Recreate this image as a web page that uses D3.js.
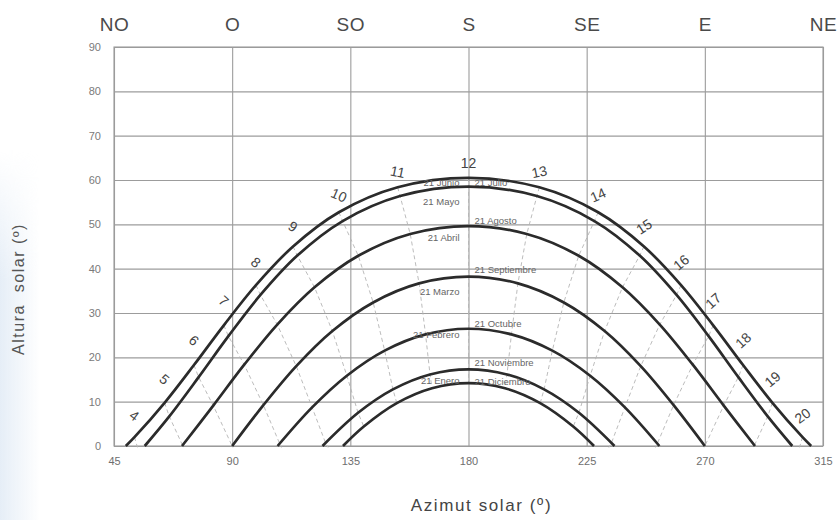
<!DOCTYPE html>
<html>
<head>
<meta charset="utf-8">
<script src="https://cdn.jsdelivr.net/npm/d3@7"></script>
<style>
  html, body { margin: 0; padding: 0; background: #fff; }
  svg { display: block; font-family: "Liberation Sans", Arial, sans-serif; }
</style>
</head>
<body>
<svg id="chart" width="839" height="520"></svg>
<script>
// ---- axes ----
const azimuthTicks = [45, 90, 135, 180, 225, 270, 315];
const altitudeTicks = [0, 10, 20, 30, 40, 50, 60, 70, 80, 90];
const compassLabels = ["NO", "O", "SO", "S", "SE", "E", "NE"];

// ---- sun paths: [hour, azimuth (º), altitude (º)] ----
const pathJunio = [[3,40.7,-4.62],[4,52.79,1.99],[5,64.26,9.74],[6,75.44,18.26],[7,86.81,27.22],[8,99.06,36.29],[9,113.18,45.0],[10,130.64,52.72],[11,153.03,58.35],[12,180,60.48],[13,206.97,58.35],[14,229.36,52.72],[15,246.82,45.0],[16,260.94,36.29],[17,273.19,27.22],[18,284.56,18.26],[19,295.74,9.74],[20,307.21,1.99],[21,319.3,-4.62]];
const pathMayoJulio = [[4,54.5,-1.42],[5,66.05,6.68],[6,77.23,15.53],[7,88.57,24.78],[8,100.77,34.07],[9,114.81,42.95],[10,132.06,50.74],[11,153.94,56.38],[12,180,58.5],[13,206.06,56.38],[14,227.94,50.74],[15,245.19,42.95],[16,259.23,34.07],[17,271.43,24.78],[18,282.77,15.53],[19,293.95,6.68],[20,305.5,-1.42]];
const pathAbrilAgosto = [[4,59.0,-8.23],[5,71.12,0.14],[6,82.8,9.12],[7,94.59,18.34],[8,107.17,27.39],[9,121.36,35.8],[10,138.03,42.91],[11,157.81,47.82],[12,180,49.6],[13,202.19,47.82],[14,221.97,42.91],[15,238.64,35.8],[16,252.83,27.39],[17,265.41,18.34],[18,277.2,9.12],[19,288.88,0.14],[20,301.0,-8.23]];
const pathMarzoSept = [[5,78.11,-9.21],[6,90,0],[7,101.89,9.21],[8,114.41,18.01],[9,128.16,25.93],[10,143.7,32.38],[11,161.18,36.68],[12,180,38.2],[13,198.82,36.68],[14,216.3,32.38],[15,231.84,25.93],[16,245.59,18.01],[17,258.11,9.21],[18,270,0],[19,281.89,-9.21]];
const pathFebOct = [[6,96.16,-8.2],[7,108.09,0.55],[8,120.44,8.71],[9,133.67,15.85],[10,148.07,21.51],[11,163.65,25.18],[12,180,26.45],[13,196.35,25.18],[14,211.93,21.51],[15,226.33,15.85],[16,239.56,8.71],[17,251.91,0.55],[18,263.84,-8.2]];
const pathEneNov = [[7,113.89,-7.2],[8,125.57,0.7],[9,137.95,7.49],[10,151.22,12.77],[11,165.34,16.14],[12,180,17.3],[13,194.66,16.14],[14,208.78,12.77],[15,222.05,7.49],[16,234.43,0.7],[17,246.11,-7.2]];
const pathDiciembre = [[8,128.4,-2.42],[9,140.12,4.41],[10,152.7,9.68],[11,166.1,13.04],[12,180,14.2],[13,193.9,13.04],[14,207.3,9.68],[15,219.88,4.41],[16,231.6,-2.42]];

// sunrise / sunset azimuths (altitude 0) for each path, top to bottom
const sunriseAz = [49.5, 56.7, 70.9, 90, 107.3, 124.4, 132.2];
const sunsetAz  = [310.5, 303.3, 289.1, 270, 252.7, 235.6, 227.8];

// date names written beside each path (left of south, right of south)
const leftDateLabels  = ["21 Junio", "21 Mayo", "21 Abril", "21 Marzo", "21 Febrero", "21 Enero", null];
const rightDateLabels = [null, "21 Julio", "21 Agosto", "21 Septiembre", "21 Octubre", "21 Noviembre", "21 Diciembre"];

// solar hours marked along the highest path
const hourLabels = [4, 5, 6, 7, 8, 9, 10, 11, 12, 13, 14, 15, 16, 17, 18, 19, 20];

const sunPaths = [pathJunio, pathMayoJulio, pathAbrilAgosto, pathMarzoSept, pathFebOct, pathEneNov, pathDiciembre];

// ---- layout ----
const svg = d3.select("#chart");
const plot = { left: 114, right: 823, top: 47, bottom: 446 };
const x = d3.scaleLinear().domain([45, 315]).range([plot.left, plot.right]);
const y = d3.scaleLinear().domain([0, 90]).range([plot.bottom, plot.top]);

// faint bluish tint along the lower left margin, fading out upward and inward
const defs = svg.append("defs");
const tint = defs.append("linearGradient").attr("id", "edgeTint").attr("x1", 0).attr("x2", 1);
tint.append("stop").attr("offset", 0).attr("stop-color", "#dde8f4").attr("stop-opacity", 0.75);
tint.append("stop").attr("offset", 1).attr("stop-color", "#dde8f4").attr("stop-opacity", 0);
const fade = defs.append("linearGradient").attr("id", "edgeFade")
  .attr("x1", 0).attr("x2", 0).attr("y1", 0).attr("y2", 1);
fade.append("stop").attr("offset", 0).attr("stop-color", "#fff").attr("stop-opacity", 0);
fade.append("stop").attr("offset", 0.35).attr("stop-color", "#fff").attr("stop-opacity", 1);
fade.append("stop").attr("offset", 1).attr("stop-color", "#fff").attr("stop-opacity", 1);
defs.append("mask").attr("id", "edgeMask")
  .attr("maskUnits", "userSpaceOnUse")
  .attr("x", 0).attr("y", 150).attr("width", 40).attr("height", 370)
  .append("rect").attr("x", 0).attr("y", 150).attr("width", 40).attr("height", 370)
  .attr("fill", "url(#edgeFade)");
svg.append("rect").attr("x", 0).attr("y", 150).attr("width", 40).attr("height", 370)
  .attr("fill", "url(#edgeTint)").attr("mask", "url(#edgeMask)");

defs.append("clipPath").attr("id", "plotClip")
  .append("rect").attr("x", plot.left).attr("y", plot.top)
  .attr("width", plot.right - plot.left).attr("height", plot.bottom - plot.top + 1.5);

// horizontal grid + altitude labels
const yAxis = svg.append("g")
  .attr("transform", `translate(${plot.left},0)`)
  .call(d3.axisLeft(y).tickValues(altitudeTicks).tickSize(-(plot.right - plot.left)).tickPadding(13));
yAxis.select(".domain").remove();
yAxis.selectAll("line").attr("stroke", "#9c9c9c").attr("stroke-width", 1.1);
yAxis.selectAll("text").attr("fill", "#7a7a7a").style("font-size", "11px");

// vertical grid + azimuth labels
const xAxis = svg.append("g")
  .attr("transform", `translate(0,${plot.bottom})`)
  .call(d3.axisBottom(x).tickValues(azimuthTicks).tickSize(-(plot.bottom - plot.top)).tickPadding(11));
xAxis.select(".domain").remove();
xAxis.selectAll("line").attr("stroke", "#9c9c9c").attr("stroke-width", 1.1);
xAxis.selectAll("text").attr("fill", "#6e6e6e").style("font-size", "11px");

// compass points along the top
const compassAxis = svg.append("g")
  .attr("transform", `translate(0,${plot.top})`)
  .call(d3.axisTop(x).tickValues(azimuthTicks).tickSize(0).tickPadding(16)
    .tickFormat((d, i) => compassLabels[i]));
compassAxis.select(".domain").remove();
compassAxis.selectAll("text").attr("fill", "#4a4a4a").style("font-size", "19px").style("letter-spacing", "0.5px");

// plot frame
svg.append("rect")
  .attr("x", plot.left).attr("y", plot.top)
  .attr("width", plot.right - plot.left).attr("height", plot.bottom - plot.top)
  .attr("fill", "none").attr("stroke", "#9c9c9c").attr("stroke-width", 1.1);

const inner = svg.append("g").attr("clip-path", "url(#plotClip)");

// dashed hour lines joining the same hour on every path
const hourLine = d3.line().x(p => x(p[1])).y(p => y(p[2]));
d3.range(4, 21).forEach(h => {
  const pts = sunPaths.map(p => p.find(q => q[0] === h)).filter(Boolean);
  if (pts.length < 2 || !pts.some(q => q[2] > 0)) return;
  inner.append("path")
    .attr("d", hourLine(pts))
    .attr("fill", "none")
    .attr("stroke", "#b4b4b4")
    .attr("stroke-width", 0.9)
    .attr("stroke-dasharray", "4,3");
});

// sun path curves
const sunLine = d3.line().x(p => x(p[0])).y(p => y(p[1])).curve(d3.curveCatmullRom.alpha(0.5));
sunPaths.forEach((path, i) => {
  const pts = [[sunriseAz[i], 0]]
    .concat(path.filter(p => p[2] > 1).map(p => [p[1], p[2]]))
    .concat([[sunsetAz[i], 0]]);
  inner.append("path")
    .attr("d", sunLine(pts))
    .attr("fill", "none")
    .attr("stroke", "#2b2b2b")
    .attr("stroke-width", 2.7)
    .attr("stroke-linejoin", "round");
});

// date names next to the noon point of each path
const leftDy  = [5, 15, 11, 15, 6, 11, 0];
const rightDy = [0, -4, -6, -7, -5, -7, -2];
sunPaths.forEach((path, i) => {
  const noon = path.find(p => p[0] === 12);
  if (leftDateLabels[i]) {
    svg.append("text")
      .attr("x", x(180) - 9).attr("y", y(noon[2]) + leftDy[i])
      .attr("text-anchor", "end").attr("dominant-baseline", "central")
      .attr("fill", "#666").style("font-size", "9.5px")
      .text(leftDateLabels[i]);
  }
  if (rightDateLabels[i]) {
    svg.append("text")
      .attr("x", x(180) + 6).attr("y", y(noon[2]) + rightDy[i])
      .attr("text-anchor", "start").attr("dominant-baseline", "central")
      .attr("fill", "#666").style("font-size", "9.5px")
      .text(rightDateLabels[i]);
  }
});

// hour numbers set just outside the highest path
const highest = pathJunio;
hourLabels.forEach(h => {
  const k = highest.findIndex(p => p[0] === h);
  const p = highest[k], a = highest[k - 1], b = highest[k + 1];
  const px = x(p[1]), py = y(p[2]);
  const theta = Math.atan2(y(b[2]) - y(a[2]), x(b[1]) - x(a[1]));
  const lift = 15 / Math.max(Math.cos(theta), 0.45);
  const rot = -0.8 * theta * 180 / Math.PI;
  svg.append("text")
    .attr("transform", `translate(${px},${py - lift}) rotate(${rot})`)
    .attr("text-anchor", "middle").attr("dominant-baseline", "central")
    .attr("fill", "#444").style("font-size", "14px")
    .text(h);
});

// axis titles
svg.append("text")
  .attr("x", (plot.left + plot.right) / 2 + 13).attr("y", 511)
  .attr("text-anchor", "middle")
  .attr("fill", "#444").style("font-size", "17px").style("letter-spacing", "1.6px")
  .text("Azimut solar (º)");

svg.append("text")
  .attr("transform", "translate(24,289) rotate(-90)")
  .attr("text-anchor", "middle")
  .attr("fill", "#555").style("font-size", "16px").style("letter-spacing", "1.5px")
  .style("white-space", "pre")
  .text("Altura  solar (º)");
</script>
</body>
</html>
